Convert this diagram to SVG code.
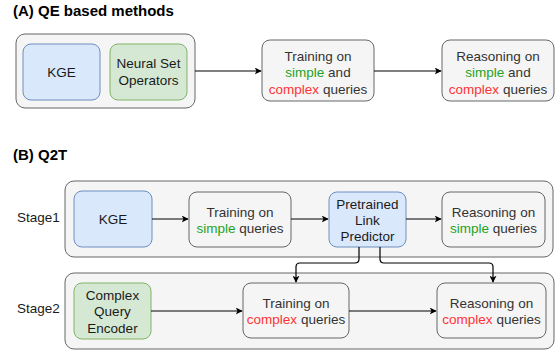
<svg xmlns="http://www.w3.org/2000/svg" width="556" height="351" viewBox="0 0 556 351">
<defs>
<style>
text{font-family:"Liberation Sans",Arial,sans-serif;font-size:13.5px;fill:#333333;text-anchor:middle}
.title{font-size:15px;font-weight:bold;fill:#000;text-anchor:start}
.lbl{fill:#1a1a1a;text-anchor:start}
.blk{fill:#1a1a1a}
.cont{fill:#f5f5f5;stroke:#666666;stroke-width:1}
.gray{fill:#f5f5f5;stroke:#666666;stroke-width:1}
.blue{fill:#dae8fc;stroke:#6c8ebf;stroke-width:1}
.green{fill:#d5e8d4;stroke:#82b366;stroke-width:1}
.g{fill:#1fa31f}
.r{fill:#ff3333}
.edge{fill:none;stroke:#000;stroke-width:1.2;marker-end:url(#arr)}
</style>
<marker id="arr" viewBox="0 0 10 10" refX="9" refY="5" markerWidth="7" markerHeight="7" markerUnits="userSpaceOnUse" orient="auto">
<path d="M0,0 L10,5 L0,10 L2.5,5 Z" fill="#000"/>
</marker>
</defs>

<text class="title" x="13" y="16">(A) QE based methods</text>
<text class="title" x="13" y="160">(B) Q2T</text>

<g id="qe-container">
<rect class="cont" x="16" y="34" width="179" height="74" rx="9"/>
</g>
<g id="qe-kge">
<rect class="blue" x="23" y="44" width="77" height="56" rx="8"/>
<text class="blk" x="61.5" y="77">KGE</text>
</g>
<g id="qe-nso">
<rect class="green" x="110" y="44" width="77" height="56" rx="8"/>
<text class="blk" x="148.5" y="68">Neural Set</text>
<text class="blk" x="148.5" y="85">Operators</text>
</g>
<g id="qe-train">
<rect class="gray" x="262" y="40" width="112" height="61" rx="8"/>
<text x="318" y="61">Training on</text>
<text x="318" y="77"><tspan class="g">simple</tspan> and</text>
<text x="318" y="93.5"><tspan class="r">complex</tspan> queries</text>
</g>
<g id="qe-reason">
<rect class="gray" x="442" y="40" width="112" height="61" rx="8"/>
<text x="498" y="61">Reasoning on</text>
<text x="498" y="77"><tspan class="g">simple</tspan> and</text>
<text x="498" y="93.5"><tspan class="r">complex</tspan> queries</text>
</g>

<text class="lbl" x="17" y="222">Stage1</text>
<text class="lbl" x="17" y="312.5">Stage2</text>

<g id="stage1">
<rect class="cont" x="65" y="181" width="488" height="76" rx="9"/>
</g>
<g id="stage2">
<rect class="cont" x="65" y="273" width="489" height="76" rx="9"/>
</g>

<g id="s1-kge">
<rect class="blue" x="74" y="191" width="78" height="56" rx="8"/>
<text class="blk" x="113" y="224">KGE</text>
</g>
<g id="s1-train">
<rect class="gray" x="189" y="192" width="102" height="55" rx="8"/>
<text x="240" y="216.5">Training on</text>
<text x="240" y="233"><tspan class="g">simple</tspan> queries</text>
</g>
<g id="s1-plp">
<rect class="blue" x="329" y="192" width="77" height="55" rx="8"/>
<text class="blk" x="367.5" y="208.5">Pretrained</text>
<text class="blk" x="367.5" y="224.5">Link</text>
<text class="blk" x="367.5" y="240.5">Predictor</text>
</g>
<g id="s1-reason">
<rect class="gray" x="442" y="192" width="103" height="55" rx="8"/>
<text x="493.5" y="216.5">Reasoning on</text>
<text x="493.5" y="233"><tspan class="g">simple</tspan> queries</text>
</g>

<g id="s2-cqe">
<rect class="green" x="74" y="283" width="77" height="56" rx="8"/>
<text class="blk" x="112.5" y="300">Complex</text>
<text class="blk" x="112.5" y="316">Query</text>
<text class="blk" x="112.5" y="332.5">Encoder</text>
</g>
<g id="s2-train">
<rect class="gray" x="243" y="283" width="106" height="55" rx="8"/>
<text x="296" y="307.5">Training on</text>
<text x="296" y="324"><tspan class="r">complex</tspan> queries</text>
</g>
<g id="s2-reason">
<rect class="gray" x="437" y="283" width="109" height="55" rx="8"/>
<text x="491.5" y="307.5">Reasoning on</text>
<text x="491.5" y="324"><tspan class="r">complex</tspan> queries</text>
</g>

<g id="connectors">
<path class="edge" d="M195,71 H261"/>
<path class="edge" d="M374,71 H441"/>
<path class="edge" d="M152,219 H188"/>
<path class="edge" d="M291,219 H328"/>
<path class="edge" d="M406,219 H441"/>
<path class="edge" d="M151,311 H242"/>
<path class="edge" d="M349,311 H436"/>
<path class="edge" d="M359,247 V259 Q359,263 355,263 H300 Q296,263 296,267 V282"/>
<path class="edge" d="M380,247 V259 Q380,263 384,263 H489 Q493,263 493,267 V282"/>
</g>
</svg>
